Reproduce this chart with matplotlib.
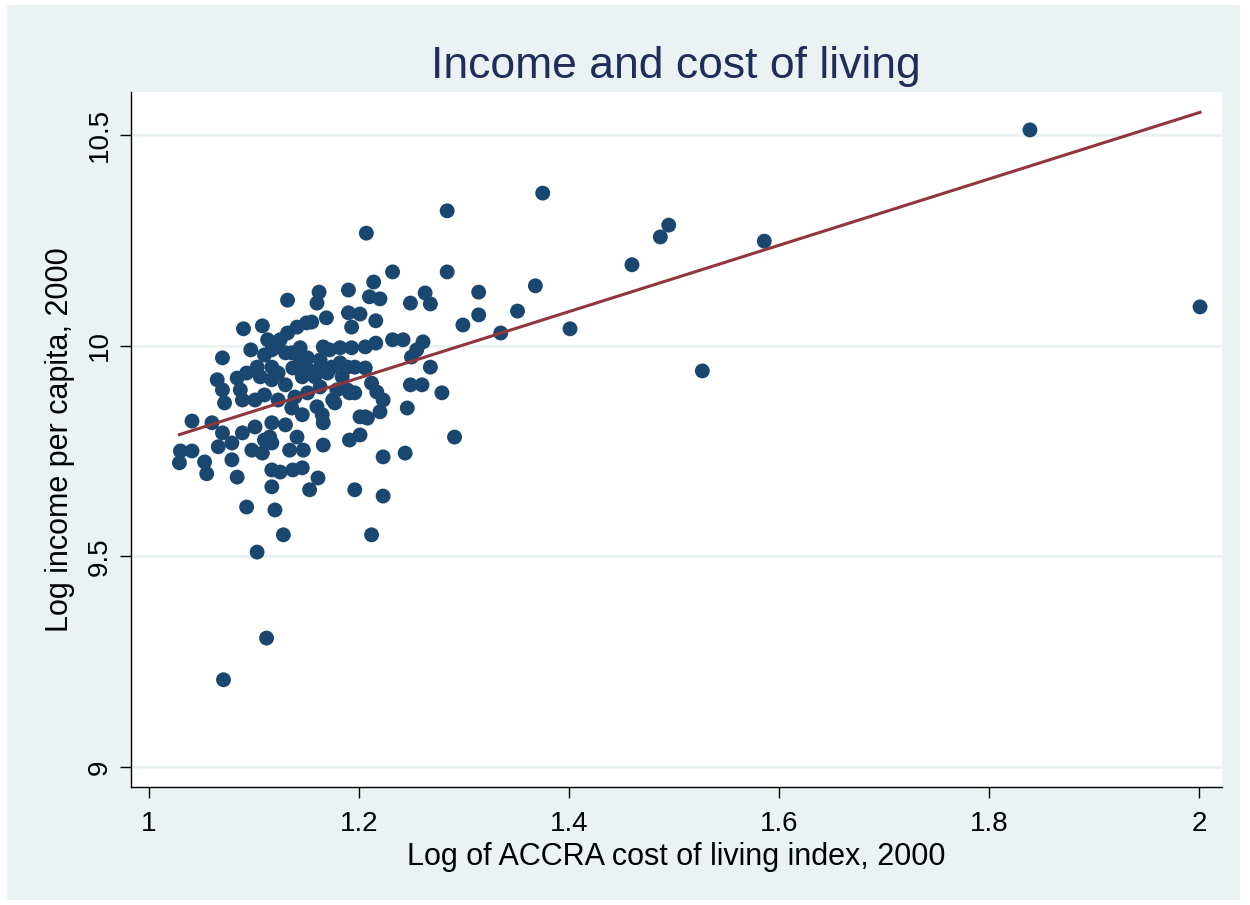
import numpy as np
import matplotlib
matplotlib.use("Agg")
import matplotlib.pyplot as plt
from matplotlib.patches import Rectangle

# Log of ACCRA cost of living index, 2000
log_col = [
    1.029, 1.030, 1.041, 1.041, 1.053, 1.055, 1.060, 1.070, 1.066, 1.079,
    1.089, 1.101, 1.110, 1.098, 1.108, 1.117, 1.079, 1.084, 1.117, 1.117,
    1.093, 1.071, 1.090, 1.108, 1.097, 1.070, 1.110, 1.103, 1.093, 1.084,
    1.065, 1.070, 1.087, 1.089, 1.072, 1.101, 1.110, 1.117, 1.117, 1.117,
    1.113, 1.132, 1.162, 1.160, 1.190, 1.155, 1.169, 1.190, 1.193, 1.141,
    1.132, 1.122, 1.136, 1.144, 1.166, 1.172, 1.182, 1.163, 1.182, 1.189,
    1.150, 1.137, 1.170, 1.189, 1.179, 1.163, 1.106, 1.150, 1.125, 1.130,
    1.144, 1.151, 1.193, 1.206, 1.161, 1.174, 1.196, 1.206, 1.123, 1.146,
    1.158, 1.130, 1.184, 1.196, 1.151, 1.139, 1.123, 1.177, 1.160, 1.165,
    1.166, 1.136, 1.146, 1.117, 1.130, 1.115, 1.141, 1.134, 1.147, 1.166,
    1.191, 1.201, 1.206, 1.125, 1.137, 1.146, 1.161, 1.153, 1.196, 1.120,
    1.175, 1.191, 1.128, 1.103, 1.268, 1.249, 1.260, 1.279, 1.212, 1.217,
    1.223, 1.220, 1.246, 1.201, 1.208, 1.223, 1.244, 1.291, 1.223, 1.212,
    1.375, 1.284, 1.207, 1.232, 1.284, 1.214, 1.210, 1.220, 1.249, 1.263,
    1.268, 1.314, 1.368, 1.351, 1.314, 1.299, 1.335, 1.201, 1.216, 1.216,
    1.232, 1.242, 1.261, 1.255, 1.250, 1.839, 2.001, 1.586, 1.527, 1.495,
    1.487, 1.460, 1.401, 1.112,
]

# Log income per capita, 2000
log_inc = [
    9.722, 9.750, 9.750, 9.821, 9.724, 9.696, 9.817, 9.793, 9.760, 9.769,
    9.793, 9.807, 9.776, 9.752, 9.745, 9.769, 9.729, 9.688, 9.705, 9.665,
    9.617, 9.207, 10.040, 10.047, 9.990, 9.971, 9.978, 9.949, 9.935, 9.923,
    9.919, 9.895, 9.895, 9.871, 9.864, 9.871, 9.883, 9.919, 9.949, 9.990,
    10.014, 10.108, 10.127, 10.101, 10.132, 10.056, 10.066, 10.078, 10.044, 10.044,
    10.030, 10.006, 9.983, 9.995, 9.997, 9.990, 9.995, 9.966, 9.959, 9.949,
    9.947, 9.947, 9.935, 9.895, 9.895, 9.902, 9.926, 10.054, 10.014, 9.983,
    9.971, 9.971, 9.995, 9.997, 9.942, 9.949, 9.949, 9.947, 9.935, 9.926,
    9.926, 9.907, 9.926, 9.888, 9.888, 9.878, 9.871, 9.864, 9.855, 9.836,
    9.817, 9.852, 9.836, 9.817, 9.812, 9.783, 9.783, 9.752, 9.752, 9.764,
    9.776, 9.788, 9.831, 9.700, 9.705, 9.710, 9.686, 9.658, 9.658, 9.610,
    9.871, 9.888, 9.551, 9.510, 9.949, 9.907, 9.907, 9.888, 9.911, 9.890,
    9.871, 9.843, 9.852, 9.831, 9.828, 9.736, 9.745, 9.783, 9.643, 9.551,
    10.362, 10.320, 10.267, 10.175, 10.175, 10.151, 10.116, 10.111, 10.101, 10.125,
    10.099, 10.127, 10.142, 10.082, 10.073, 10.049, 10.030, 10.075, 10.059, 10.006,
    10.014, 10.014, 10.009, 9.990, 9.973, 10.512, 10.092, 10.248, 9.940, 10.286,
    10.258, 10.192, 10.040, 9.306,
]

# linear fit (intercept, slope)
fit_coef = [8.979, 0.787]

x_ticks = [1, 1.2, 1.4, 1.6, 1.8, 2]
x_tick_labels = ["1", "1.2", "1.4", "1.6", "1.8", "2"]
y_ticks = [9, 9.5, 10, 10.5]
y_tick_labels = ["9", "9.5", "10", "10.5"]

title = "Income and cost of living"
xlabel = "Log of ACCRA cost of living index, 2000"
ylabel = "Log income per capita, 2000"

plt.rcParams['font.family'] = ['Liberation Sans', 'DejaVu Sans']

W, H = 1250, 905
fig = plt.figure(figsize=(W / 100, H / 100), dpi=100)
fig.patch.set_facecolor("white")
bg = "#EAF2F3"
fig.patches.append(Rectangle((7 / W, 1 - 900 / H), (1240 - 7) / W, (900 - 5) / H,
                             transform=fig.transFigure, facecolor=bg,
                             edgecolor="none", zorder=-10))

ax = fig.add_axes([131 / W, 1 - 787 / H, (1222 - 131) / W, (787 - 92) / H])
ax.set_zorder(5)
ax.set_facecolor("white")

x = np.array(log_col)
y = np.array(log_inc)

for t in y_ticks:
    ax.axhline(t, color=bg, lw=2.2, zorder=1)

ax.scatter(x, y, s=115, color="#1a476f", edgecolors="none", zorder=3)

a, b = fit_coef
xs = np.array([x.min(), x.max()])
ax.plot(xs, a + b * xs, color="#90353b", lw=2.2, zorder=4)

ax.set_xlim(0.9829, 2.0219)
ax.set_ylim(8.9525, 10.602)

ax.set_xticks(x_ticks)
ax.set_xticklabels(x_tick_labels)
ax.set_yticks(y_ticks)
ax.set_yticklabels(y_tick_labels, rotation=90, va="center")

for s in ["top", "right"]:
    ax.spines[s].set_visible(False)
for s in ["left", "bottom"]:
    ax.spines[s].set_color("black")
    ax.spines[s].set_linewidth(1.0)

ax.tick_params(axis="both", direction="out", length=8, width=1, labelsize=20,
               colors="black")
ax.tick_params(axis="x", pad=9)
ax.tick_params(axis="y", pad=5)

fig.text(676 / W, 1 - 78 / H, title, fontsize=32, color="#1e2d5a",
         ha="center", va="baseline")
fig.text(676 / W, 1 - 857 / H, xlabel, fontsize=22, color="black",
         ha="center", va="center")
fig.text(60 / W, 1 - 440 / H, ylabel, fontsize=22, color="black",
         ha="center", va="center", rotation=90)

fig.savefig("out.png", dpi=100, facecolor=fig.get_facecolor())
